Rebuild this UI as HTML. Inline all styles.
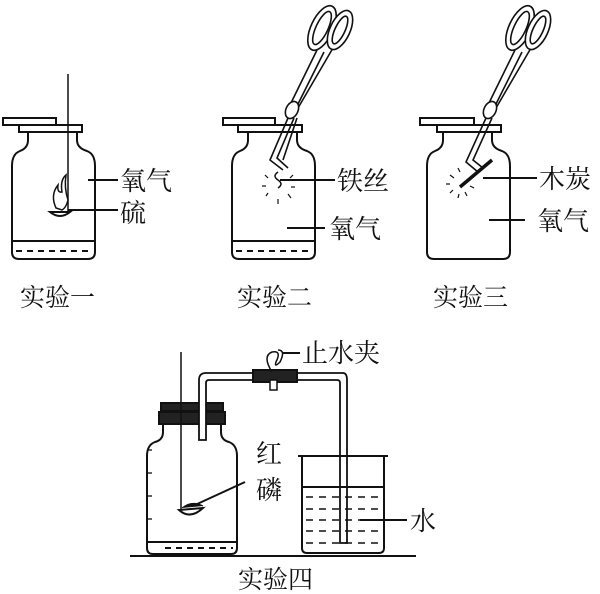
<!DOCTYPE html>
<html><head><meta charset="utf-8"><style>
body{margin:0;background:#fff}
svg{display:block}
text{font-family:"Liberation Serif","Noto Serif CJK SC",serif;font-size:26px;fill:#111;stroke:none}
text.c{font-size:25px}
</style></head><body>
<svg width="600" height="594" viewBox="0 0 600 594" fill="none" stroke="#111" stroke-width="2">
<defs>
<path id="jar" d="M28,132 V140 Q28,148 20,151 Q12,154 12,166 V252 Q12,259 19,259 H88 Q95,259 95,252 V166 Q95,154 87,151 Q77,148 77,140 V132"/>
<g id="handle" stroke-width="1.6">
<ellipse cx="0" cy="0" rx="11" ry="24" transform="rotate(25)" fill="#fff"/>
<ellipse cx="0" cy="0" rx="6" ry="18" transform="rotate(25)"/>
<ellipse cx="18" cy="2" rx="10" ry="21" transform="rotate(25 18 2)" fill="#fff"/>
<ellipse cx="18" cy="2" rx="5" ry="15" transform="rotate(25 18 2)"/>
</g>
</defs>
<!-- Exp 1 -->
<use href="#jar"/>
<rect x="3" y="118" width="53" height="7" fill="#fff"/>
<rect x="19" y="125" width="63" height="7" fill="#fff"/>
<line x1="12" y1="241" x2="95" y2="241"/>
<line x1="16" y1="251" x2="92" y2="251" stroke-dasharray="6,5"/>
<line x1="68" y1="74" x2="68" y2="212" stroke-width="1.5"/>
<path d="M50,212 Q60,220 70,212 Z" fill="#fff"/>
<path d="M56,208 Q50,195 58,185 Q57,193 62,192 Q60,180 66,175 Q64,188 68,200 Q66,208 62,210 Z" fill="#fff" stroke-width="1.5"/>
<line x1="88" y1="180" x2="118" y2="180"/>
<line x1="68" y1="210" x2="118" y2="210"/>
<text x="120" y="190">氧气</text>
<text x="120" y="222">硫</text>
<text class="c" x="20" y="306">实验一</text>

<!-- Exp 2 -->
<g transform="translate(220,0)"><use href="#jar"/>
<line x1="12" y1="241" x2="95" y2="241"/>
<line x1="16" y1="251" x2="92" y2="251" stroke-dasharray="6,5"/></g>
<rect x="223" y="118" width="52" height="7" fill="#fff"/>
<rect x="238" y="125" width="64" height="7" fill="#fff"/>
<g stroke-width="1.6">
<line x1="317" y1="50" x2="290" y2="105"/>
<line x1="324" y1="52" x2="296" y2="108"/>
<line x1="333" y1="48" x2="298" y2="108"/>
<ellipse cx="292" cy="110" rx="6" ry="9" transform="rotate(25 292 110)" fill="#fff"/>
<path d="M288,118 L270,160 L283,170"/>
<path d="M294,118 L277,158 L288,168"/>
<path d="M297,118 L283,160"/>
</g>
<use href="#handle" x="322" y="28"/>
<path d="M278,172 q-6,4 0,8 q6,4 0,8" stroke-width="1.5"/>
<g stroke-width="1.2"><line x1="265" y1="175" x2="268" y2="178"/><line x1="262" y1="186" x2="266" y2="186"/><line x1="266" y1="196" x2="268" y2="193"/><line x1="290" y1="178" x2="293" y2="175"/><line x1="291" y1="187" x2="295" y2="187"/><line x1="288" y1="194" x2="291" y2="198"/><line x1="278" y1="199" x2="278" y2="204"/></g>
<line x1="280" y1="180" x2="335" y2="180"/>
<line x1="287" y1="228" x2="325" y2="228"/>
<text x="337" y="190">铁丝</text>
<text x="329" y="238">氧气</text>
<text class="c" x="237" y="306">实验二</text>

<!-- Exp 3 -->
<g transform="translate(415,0)"><use href="#jar"/></g>
<rect x="420" y="118" width="54" height="7" fill="#fff"/>
<rect x="437" y="125" width="64" height="7" fill="#fff"/>
<g stroke-width="1.6">
<line x1="515" y1="50" x2="488" y2="105"/>
<line x1="522" y1="52" x2="494" y2="108"/>
<line x1="531" y1="48" x2="496" y2="108"/>
<ellipse cx="490" cy="110" rx="6" ry="9" transform="rotate(25 490 110)" fill="#fff"/>
<path d="M486,118 L466,162 L478,172"/>
<path d="M492,118 L473,160 L483,168"/>
</g>
<use href="#handle" x="520" y="28"/>
<line x1="460" y1="187" x2="492" y2="160" stroke-width="3.5"/>
<g stroke-width="1.2"><line x1="450" y1="175" x2="454" y2="178"/><line x1="446" y1="184" x2="450" y2="184"/><line x1="450" y1="193" x2="453" y2="190"/><line x1="458" y1="198" x2="459" y2="194"/><line x1="467" y1="196" x2="465" y2="192"/><line x1="474" y1="188" x2="470" y2="186"/><line x1="458" y1="168" x2="460" y2="172"/></g>
<line x1="483" y1="178" x2="537" y2="178"/>
<line x1="489" y1="220" x2="525" y2="220"/>
<text x="539" y="188">木炭</text>
<text x="537" y="230">氧气</text>
<text class="c" x="433" y="306">实验三</text>

<!-- Exp 4 -->
<line x1="130" y1="556" x2="416" y2="556"/>
<path d="M163,425 V432 Q163,440 155,442 Q147,445 147,456 V548 Q147,554 153,554 H231 Q237,554 237,548 V456 Q237,445 229,442 Q221,440 221,432 V425" fill="#fff"/>
<rect x="161" y="403" width="62" height="8" fill="#222"/>
<rect x="159" y="412" width="66" height="12" fill="#222"/>
<g stroke-width="1.3"><line x1="147" y1="450" x2="152" y2="450"/><line x1="147" y1="473" x2="152" y2="473"/><line x1="147" y1="496" x2="152" y2="496"/><line x1="147" y1="519" x2="152" y2="519"/></g>
<line x1="148" y1="542" x2="236" y2="542"/>
<line x1="165" y1="548" x2="233" y2="548" stroke-dasharray="6,5"/>
<line x1="181" y1="352" x2="181" y2="510" stroke-width="1.5"/>
<path d="M179,510 Q190,520 203,508 Z" fill="#fff"/>
<path d="M182,508 Q192,500 203,506" fill="#111" stroke-width="1"/>
<line x1="195" y1="505" x2="245" y2="482"/>
<text x="256" y="463">红</text>
<text x="256" y="499">磷</text>
<path d="M199,440 V380 Q199,373 206,373 H343 Q347,373 347,380 V543 H340 V383 Q340,380 337,380 H209 Q206,380 206,383 V440 Z" fill="#fff" stroke-width="1.8"/>
<rect x="253" y="370" width="44" height="12" fill="#222"/>
<rect x="270" y="380" width="7" height="10" fill="#fff" stroke-width="1.5"/>
<path d="M272,372 Q262,356 272,352 Q282,350 276,362 Q274,368 280,362 Q286,350 278,350" stroke-width="1.5"/>
<line x1="282" y1="353" x2="300" y2="353"/>
<text x="302" y="362">止水夹</text>
<path d="M298,456 H388 M302,456 V548 Q302,553 307,553 H379 Q384,553 384,548 V456"/>
<line x1="303" y1="487" x2="383" y2="487"/>
<g stroke-dasharray="7,6" stroke-width="1.6">
<line x1="306" y1="497" x2="380" y2="497"/>
<line x1="306" y1="509" x2="380" y2="509"/>
<line x1="306" y1="520" x2="380" y2="520"/>
<line x1="306" y1="531" x2="380" y2="531"/>
<line x1="306" y1="543" x2="380" y2="543"/>
</g>
<line x1="360" y1="520" x2="407" y2="520"/>
<text x="410" y="530">水</text>
<text class="c" x="238" y="588">实验四</text>
</svg>
</body></html>
